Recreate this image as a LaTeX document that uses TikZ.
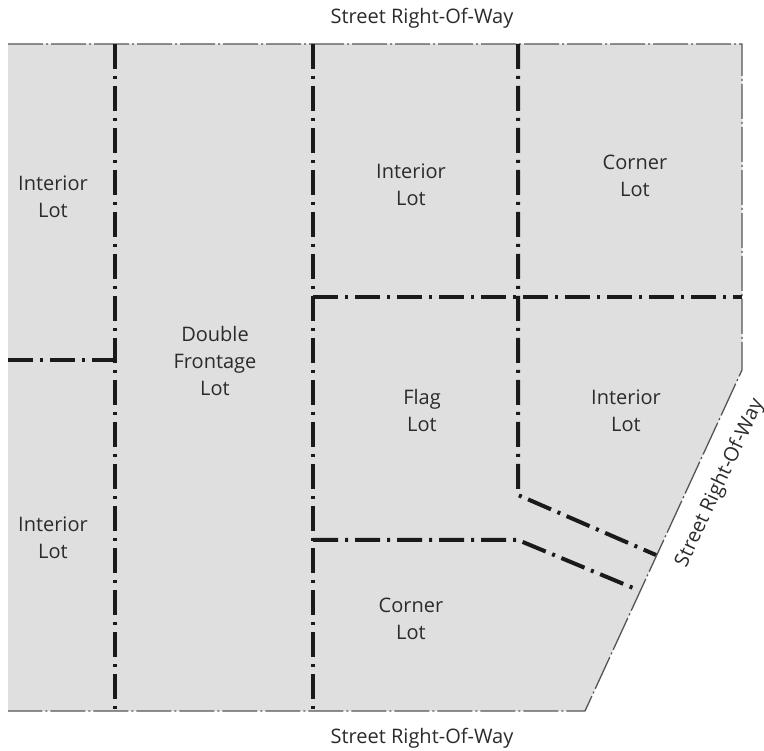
\documentclass[tikz,border=0pt]{standalone}
\usepackage{fontspec}
\setmainfont{Open Sans}
\definecolor{fillc}{HTML}{DFDFDF}
\definecolor{lotc}{HTML}{1A1A1A}
\definecolor{rowc}{HTML}{555555}
\definecolor{txtc}{HTML}{2B2B2B}
\begin{document}
\begin{tikzpicture}[x=1pt,y=-1pt,
  lotline/.style={line width=4pt, draw=lotc, dash pattern=on 25pt off 7pt on 3pt off 7pt},
  rowline/.style={line width=1.3pt, draw=rowc, dash pattern=on 35pt off 3pt on 2pt off 3pt},
  lbl/.style={font=\fontsize{20}{27}\selectfont, text=txtc, align=center, inner sep=0pt}]
\useasboundingbox (0,0) rectangle (764,751);
% outer corners
\coordinate (TL) at (8,44);
\coordinate (TR) at (742,44);
\coordinate (RB) at (742,370);
\coordinate (BR) at (585,711);
\coordinate (BL) at (8,711);
\fill[fillc] (TL) -- (TR) -- (RB) -- (BR) -- (BL) -- cycle;
\draw[rowline] (TL) -- (TR) -- (RB) -- (BR) -- (BL);
% lot line points
\coordinate (A1) at (115,44);
\coordinate (A2) at (115,711);
\coordinate (B1) at (8,360);
\coordinate (B2) at (115,360);
\coordinate (C1) at (313,44);
\coordinate (C2) at (313,711);
\coordinate (D1) at (518,44);
\coordinate (D2) at (518,495);
\coordinate (D3) at (656,555);
\coordinate (E1) at (313,297);
\coordinate (E2) at (742,297);
\coordinate (F1) at (313,540);
\coordinate (F2) at (518,540);
\coordinate (F3) at (638,590);
\draw[lotline] (A1) -- (A2);
\draw[lotline] (B1) -- (B2);
\draw[lotline] (C1) -- (C2);
\draw[lotline] (D1) -- (D2) -- (D3);
\draw[lotline] (E1) -- (E2);
\draw[lotline] (F1) -- (F2) -- (F3);
% labels
\node[lbl] (l1) at (53,197) {Interior\\Lot};
\node[lbl] (l2) at (53,538) {Interior\\Lot};
\node[lbl] (l3) at (215,361) {Double\\Frontage\\Lot};
\node[lbl] (l4) at (411,185) {Interior\\Lot};
\node[lbl] (l5) at (635,176) {Corner\\Lot};
\node[lbl] (l6) at (422,411) {Flag\\Lot};
\node[lbl] (l7) at (626,411) {Interior\\Lot};
\node[lbl] (l8) at (411,619) {Corner\\Lot};
\node[lbl] (s1) at (422,18) {Street Right-Of-Way};
\node[lbl] (s2) at (422,738) {Street Right-Of-Way};
\node[lbl, rotate=65] (s3) at (720,483) {Street Right-Of-Way};
\end{tikzpicture}
\end{document}
